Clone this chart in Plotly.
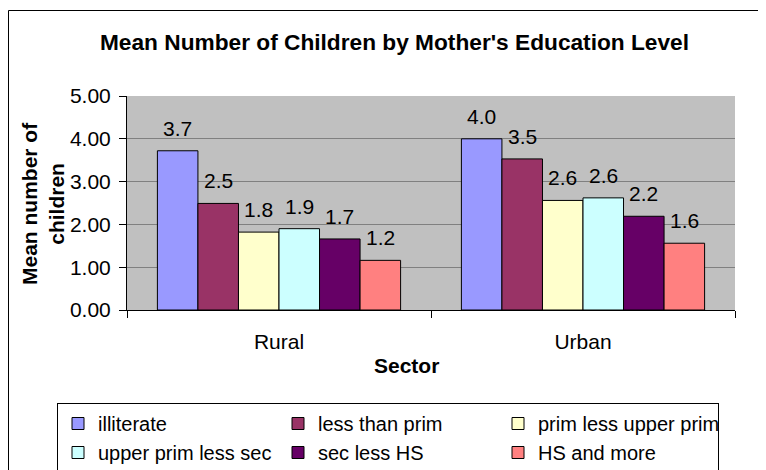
import plotly.graph_objects as go

# ---- data ----
sectors = ["Rural", "Urban"]
levels = ["illiterate", "less than prim", "prim less upper prim",
          "upper prim less sec", "sec less HS", "HS and more"]
illiterate = [3.72, 4.00]
less_than_prim = [2.49, 3.53]
prim_less_upper_prim = [1.82, 2.56]
upper_prim_less_sec = [1.90, 2.62]
sec_less_hs = [1.66, 2.19]
hs_and_more = [1.16, 1.56]
series_values = [illiterate, less_than_prim, prim_less_upper_prim,
                 upper_prim_less_sec, sec_less_hs, hs_and_more]
colors = ["#9999FF", "#993366", "#FFFFCC", "#CCFFFF", "#660066", "#FF8080"]
y_tick_values = [0, 1, 2, 3, 4, 5]

FONT = "Liberation Sans, Arial, sans-serif"
OFF = 8  # page body margin offset
W, H = 766 - OFF, 470 - OFF
L, T = 127 - OFF, 96 - OFF
R = W - (735 - OFF)
B = H - (310 - OFF)
PW, PH = W - L - R, H - T - B

def px_to_paper_x(px):
    return (px - OFF - L) / PW

def px_to_paper_y(py):
    return (H - B - (py - OFF)) / PH

fig = go.Figure()
for name, vals, col in zip(levels, series_values, colors):
    fig.add_trace(go.Bar(
        x=sectors, y=vals, name=name,
        marker=dict(color=col, line=dict(color="black", width=1)),
    ))

# data labels above bars
n = len(levels)
bargap = 0.2
annotations = []
for si, vals in enumerate(series_values):
    for ci, v in enumerate(vals):
        xpos = ci - (1 - bargap) / 2 + (si + 0.5) * (1 - bargap) / n
        annotations.append(dict(
            x=xpos, y=v, xref="x", yref="y", text=f"{v:.1f}",
            showarrow=False, yanchor="bottom", xanchor="center", yshift=9,
            font=dict(family=FONT, size=21, color="black"),
        ))

# axis titles
annotations.append(dict(
    x=px_to_paper_x(406), y=px_to_paper_y(365), xref="paper", yref="paper",
    text="<b>Sector</b>", showarrow=False, xanchor="center", yanchor="middle",
    font=dict(family=FONT, size=21, color="black"),
))
annotations.append(dict(
    x=px_to_paper_x(43), y=0.5, xref="paper", yref="paper",
    text="<b>Mean number of<br>children</b>", showarrow=False, textangle=-90,
    xanchor="center", yanchor="middle",
    font=dict(family=FONT, size=21, color="black"),
))

fig.update_layout(
    width=W, height=H,
    margin=dict(l=L, r=R, t=T, b=B, autoexpand=False),
    paper_bgcolor="white", plot_bgcolor="#C0C0C0",
    barmode="group", bargap=bargap, bargroupgap=0,
    title=dict(text="<b>Mean Number of Children by Mother's Education Level</b>",
               x=(394.5 - OFF) / W, xref="container", xanchor="center",
               y=1 - (42 - OFF) / H, yref="container", yanchor="middle",
               font=dict(family=FONT, size=22.7, color="black")),
    font=dict(family=FONT, size=21, color="black"),
    xaxis=dict(type="category", showline=True, linecolor="black", linewidth=1,
               ticks="outside", tickson="boundaries", ticklen=7, tickcolor="black",
               showgrid=False, ticklabelstandoff=13,
               tickfont=dict(family=FONT, size=21, color="black")),
    yaxis=dict(range=[0, 5], tickvals=y_tick_values, tickformat=".2f",
               showline=True, linecolor="black", linewidth=1,
               ticks="outside", ticklen=7, tickcolor="black",
               showgrid=True, gridcolor="#808080", gridwidth=1,
               zeroline=False, ticklabelstandoff=4,
               tickfont=dict(family=FONT, size=21, color="black")),
    legend=dict(orientation="h", x=px_to_paper_x(57), y=px_to_paper_y(403),
                xanchor="left", yanchor="top",
                entrywidth=175, entrywidthmode="pixels",
                bordercolor="black", borderwidth=1, bgcolor="white",
                font=dict(family=FONT, size=20, color="black"),
                traceorder="normal"),
    annotations=annotations,
    shapes=[dict(type="rect", xref="paper", yref="paper",
                 x0=px_to_paper_x(8.5), x1=px_to_paper_x(800),
                 y0=px_to_paper_y(10.5), y1=px_to_paper_y(500),
                 line=dict(color="black", width=1), fillcolor="rgba(0,0,0,0)",
                 layer="above")],
)

fig.write_html("out.html")
